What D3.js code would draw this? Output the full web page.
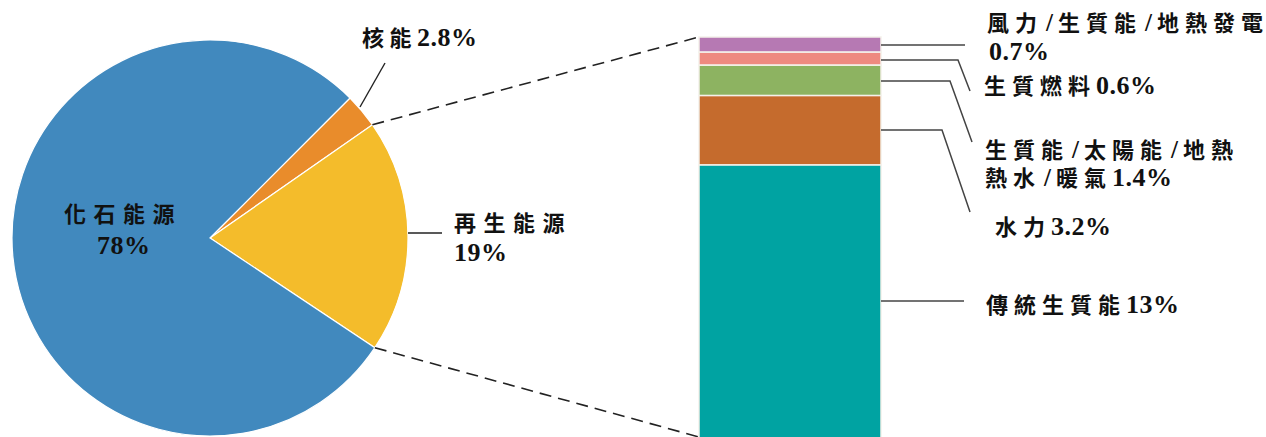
<!DOCTYPE html>
<html><head><meta charset="utf-8">
<script src="https://cdn.jsdelivr.net/npm/d3@7"></script>
<style>
html,body{margin:0;padding:0;background:#fff;}
svg text{font-family:"Liberation Serif","Noto Sans CJK TC",serif;font-weight:bold;fill:#111;}
</style></head>
<body><svg id="c" width="1266" height="437"></svg>
<script>
// Pie data (share of total energy, %)
const pieCategories = ["核能", "再生能源", "化石能源"];
const pieValues = [2.8, 19, 78];
const pieLabels = [["核能2.8%"], ["再生能源", "19%"], ["化石能源", "78%"]];
const pieColors = ["#e98c2b", "#f4bc2b", "#4189be"];

// Renewable breakdown (%), top to bottom
const barCategories = ["風力/生質能/地熱發電", "生質燃料", "生質能/太陽能/地熱熱水/暖氣", "水力", "傳統生質能"];
const barValues = [0.7, 0.6, 1.4, 3.2, 13];
const barLabels = [["風力/生質能/地熱發電", "0.7%"], ["生質燃料0.6%"], ["生質能/太陽能/地熱", "熱水/暖氣1.4%"], ["水力3.2%"], ["傳統生質能13%"]];
const barColors = ["#b679b3", "#ee8a80", "#8db361", "#c56b2d", "#00a3a2"];

const svg = d3.select("#c");
const cx = 210, cy = 238, R = 198;
const startA = Math.PI / 4;

const pie = d3.pie().value(d => d).sort(null).startAngle(startA).endAngle(startA + 2 * Math.PI);
const arcs = pie(pieValues);
const arc = d3.arc().innerRadius(0).outerRadius(R);
const g = svg.append("g").attr("transform", `translate(${cx},${cy})`);
g.selectAll("path").data(arcs).join("path")
  .attr("d", arc).attr("fill", (d, i) => pieColors[i])
  .attr("stroke", "#fff").attr("stroke-width", 1.2);

// Bar scale
const total = d3.sum(barValues);
const barTop = 37;
const y = d3.scaleLinear().domain([0, total]).range([barTop, barTop + total * 21.7]);
const x0 = 699, x1 = 881;
let cum = 0;
const segs = barValues.map((v, i) => { const s = {i, v, a: cum, b: cum + v}; cum += v; return s; });
svg.selectAll("rect.seg").data(segs).join("rect").attr("class", "seg")
  .attr("x", x0).attr("width", x1 - x0)
  .attr("y", d => y(d.a)).attr("height", d => y(d.b) - y(d.a))
  .attr("fill", d => barColors[d.i])
  .attr("stroke", "#f4f1ea").attr("stroke-width", 1.5);

// Dashed connector lines from renewable slice edges to bar corners
const ren = arcs[1];
const pt = a => [cx + R * Math.sin(a), cy - R * Math.cos(a)];
const pA = pt(ren.startAngle), pB = pt(ren.endAngle);
svg.append("line").attr("x1", pA[0]).attr("y1", pA[1]).attr("x2", x0).attr("y2", y(0))
  .attr("stroke", "#222").attr("stroke-width", 1.6).attr("stroke-dasharray", "12,7");
svg.append("line").attr("x1", pB[0]).attr("y1", pB[1]).attr("x2", x0).attr("y2", 437)
  .attr("stroke", "#222").attr("stroke-width", 1.6).attr("stroke-dasharray", "12,7");

// Mixed-script text writer
function writeText(x, yy, str, cjkSpacing) {
  const t = svg.append("text").attr("x", x).attr("y", yy);
  const runs = str.match(/[\u3400-\u9fff]+|\/|[^\u3400-\u9fff\/]+/g);
  runs.forEach((r, ri) => {
    const isLast = ri === runs.length - 1;
    if (/[\u3400-\u9fff]/.test(r)) {
      if (isLast && r.length > 1) {
        t.append("tspan").text(r.slice(0, -1)).attr("font-size", 22).attr("letter-spacing", cjkSpacing);
        t.append("tspan").text(r.slice(-1)).attr("font-size", 22).attr("letter-spacing", 0);
      } else {
        t.append("tspan").text(r).attr("font-size", 22).attr("letter-spacing", isLast ? 0 : cjkSpacing);
      }
    } else if (r === "/") {
      t.append("tspan").text(r).attr("font-size", 25).attr("dx", 3).attr("letter-spacing", 5);
    } else {
      t.append("tspan").text(r).attr("font-size", 26).attr("letter-spacing", 0.5);
    }
  });
  return t;
}

// Pie labels
svg.append("line").attr("x1", 385).attr("y1", 63).attr("x2", 360).attr("y2", 107).attr("stroke", "#222").attr("stroke-width", 1.4);
writeText(362, 46, pieLabels[0][0], 5.5);

svg.append("line").attr("x1", 408).attr("y1", 233).attr("x2", 442).attr("y2", 233).attr("stroke", "#222").attr("stroke-width", 1.4);
writeText(454, 231, pieLabels[1][0], 7.5);
writeText(454, 261, pieLabels[1][1], 7.5);

writeText(64, 222, pieLabels[2][0], 7.5);
writeText(97, 254, pieLabels[2][1], 7.5);

// Bar leader lines and labels
const leaders = [
  {yy: 45, pts: [[965, 45]], tx: 987, ty: [31, 60]},
  {yy: 60, pts: [[958, 60], [970, 91]], tx: 984, ty: [94]},
  {yy: 81, pts: [[950, 81], [972, 142]], tx: 985, ty: [158, 186]},
  {yy: 130, pts: [[942, 130], [970, 212]], tx: 995, ty: [235]},
  {yy: 301, pts: [[964, 301]], tx: 986, ty: [313]}
];
const line = d3.line();
leaders.forEach((L, i) => {
  svg.append("path").attr("d", line([[x1, L.yy], ...L.pts])).attr("fill", "none")
    .attr("stroke", "#444").attr("stroke-width", 1.5);
  barLabels[i].forEach((t, k) => {
    writeText(L.tx + (i === 0 && k === 1 ? 2 : 0), L.ty[k], t, 6);
  });
});
</script></body></html>
